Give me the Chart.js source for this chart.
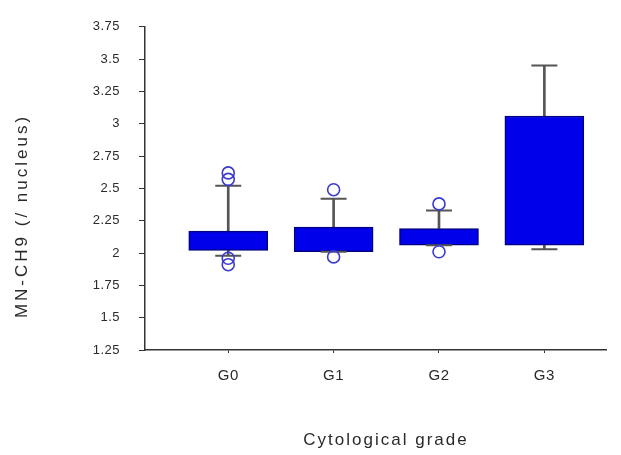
<!DOCTYPE html>
<html><head><meta charset="utf-8">
<script src="https://cdn.jsdelivr.net/npm/chart.js@4"></script>
<style>html,body{margin:0;padding:0;background:#fff}#wrap{width:621px;height:455px}</style>
</head><body><div id="wrap"><canvas id="c"></canvas></div>
<script>
const categories = ['G0', 'G1', 'G2', 'G3'];
const q1 = [2.02, 2.01, 2.06, 2.06];
const q3 = [2.17, 2.20, 2.19, 3.06];
const whiskerLow = [1.98, 2.01, 2.06, 2.03];
const whiskerHigh = [2.52, 2.42, 2.33, 3.45];
const outlierCat = [0, 0, 0, 0, 1, 1, 2, 2];
const outlierVal = [2.62, 2.57, 1.96, 1.91, 2.49, 1.97, 2.38, 2.01];
const yTicks = [1.25, 1.5, 1.75, 2, 2.25, 2.5, 2.75, 3, 3.25, 3.5, 3.75];
const yTitle = 'MN-CH9 (/ nucleus)';
const xTitle = 'Cytological grade';

const FONT = "'Liberation Sans', Arial, sans-serif";
const INK = '#2a2a2a';

const whiskerData = [];
categories.forEach((c, i) => {
  whiskerData.push({x: i, y: [q3[i], whiskerHigh[i]]});
  whiskerData.push({x: i, y: [whiskerLow[i], q1[i]]});
});
const capData = [];
categories.forEach((c, i) => {
  capData.push({x: i, y: whiskerHigh[i]});
  capData.push({x: i, y: whiskerLow[i]});
});

const titlePlugin = {
  id: 'axisTitles',
  beforeDraw(chart) {
    chart.ctx.letterSpacing = '0.5px';
  },
  afterDraw(chart) {
    const ctx = chart.ctx;
    ctx.save();
    ctx.fillStyle = INK;
    ctx.font = "17px " + FONT;
    ctx.textAlign = 'center';
    ctx.textBaseline = 'middle';
    ctx.letterSpacing = '2px';
    ctx.fillText(xTitle, 386, 440);
    ctx.letterSpacing = '3px';
    ctx.translate(22, 216);
    ctx.rotate(-Math.PI / 2);
    ctx.fillText(yTitle, 0, 0);
    ctx.restore();
  }
};

new Chart(document.getElementById('c'), {
  type: 'bar',
  data: {
    datasets: [
      {
        type: 'scatter',
        data: outlierCat.map((c, i) => ({x: c, y: outlierVal[i]})),
        pointStyle: 'circle',
        pointRadius: 6,
        borderColor: '#3b3bd0',
        backgroundColor: 'rgba(255,255,255,0)',
        borderWidth: 1.6,
        order: 0
      },
      {
        type: 'scatter',
        data: capData,
        pointStyle: 'line',
        pointRadius: 13,
        borderColor: '#555555',
        borderWidth: 2,
        order: 1
      },
      {
        type: 'bar',
        data: categories.map((c, i) => ({x: i, y: [q1[i], q3[i]]})),
        backgroundColor: '#0000ea',
        borderColor: '#000080',
        borderWidth: 1.5,
        borderSkipped: false,
        barThickness: 79,
        grouped: false,
        order: 2
      },
      {
        type: 'bar',
        data: whiskerData,
        backgroundColor: '#555555',
        borderWidth: 0,
        barThickness: 2,
        grouped: false,
        order: 3
      }
    ]
  },
  plugins: [titlePlugin],
  options: {
    responsive: true,
    maintainAspectRatio: false,
    animation: false,
    layout: {padding: {top: 25, right: 5, left: 0, bottom: 0}},
    plugins: {legend: {display: false}, tooltip: {enabled: false}},
    scales: {
      x: {
        type: 'linear',
        min: -0.79,
        max: 3.585,
        offset: false,
        afterBuildTicks(scale) { scale.ticks = categories.map((c, i) => ({value: i})); },
        afterFit(scale) { scale.height = 105; },
        ticks: {
          callback: (v) => categories[v] ?? '',
          font: {family: FONT, size: 15},
          color: INK,
          padding: 14,
          maxRotation: 0,
          autoSkip: false
        },
        grid: {display: true, offset: false, drawOnChartArea: false, drawTicks: true, tickLength: 3, color: '#333'},
        border: {display: true, color: '#333', width: 1.5}
      },
      y: {
        type: 'linear',
        min: 1.25,
        max: 3.75,
        afterBuildTicks(scale) { scale.ticks = yTicks.map(v => ({value: v})); },
        afterFit(scale) { scale.width = 145; },
        ticks: {
          callback: (v) => String(v),
          font: {family: FONT, size: 13},
          color: INK,
          padding: 19,
          autoSkip: false
        },
        grid: {display: true, drawOnChartArea: false, drawTicks: true, tickLength: 6, color: '#333'},
        border: {display: true, color: '#333', width: 1.5}
      }
    }
  }
});
</script>
</body></html>
